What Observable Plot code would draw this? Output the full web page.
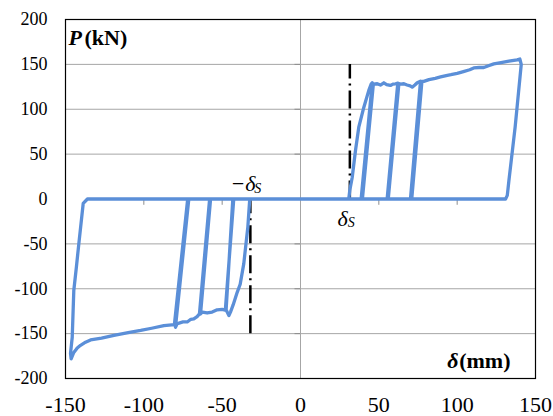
<!DOCTYPE html>
<html>
<head>
<meta charset="utf-8">
<script src="https://cdn.jsdelivr.net/npm/d3@7"></script>
<script src="https://cdn.jsdelivr.net/npm/@observablehq/plot@0.6"></script>
<style>
  html, body { margin: 0; padding: 0; background: #fff; }
  #chart svg { display: block; }
</style>
</head>
<body>
<div id="chart"></div>
<script>
// Hysteresis path: displacement δ (mm) and load P (kN), in drawing order
const delta = [
  0, 30.8, 31.5, 33, 35.1, 37.2, 40.4, 43.6, 45.1, 45.8,
  38.7, 39.5, 46.5, 49, 51, 53.2, 55, 57.4, 59, 60.6, 62.1,
  55.3, 56, 62.8, 64, 66, 68, 70, 71.3, 73, 74.5, 76.6,
  70.2, 71, 77.5, 78.7, 82, 86, 89.4, 93, 96, 100, 104, 108, 110.6, 114, 117, 120, 123.4, 128, 133, 138.3, 140,
  140.9, 137, 133, 132, 130.9,
  -32.4, -33.6, -36.2, -38.5, -40.4, -43, -44.7, -45.7, -47.9,
  -42.6, -43.2, -47.5, -50, -53.2, -56.4, -59.6, -62.7, -63.8,
  -57.4, -58, -64.5, -66, -68.1, -70, -72.3, -75, -77, -78.7, -79.8,
  -71.3, -72, -80.5, -87.2, -95, -102, -110, -119.1, -127, -134, -137.2, -140.4, -142.5, -144.7, -146.4,
  -146.8, -145.7, -144.7, -143, -141.5, -138.7, -136, 0
];
const load = [
  0, 0, 10, 24, 54, 80, 102, 121, 128, 129.5,
  0, 0, 128, 128.4, 127, 129.5, 127.5, 126.5, 128, 128.4, 129,
  0, 0, 128.5, 128, 128.4, 127, 126, 124.6, 127, 129.5, 131.3,
  0, 0, 131, 131, 133, 134.5, 136, 137.5, 138.5, 140, 142, 144, 146, 146.5, 146.5, 148.5, 150.6, 152, 153.5, 155, 156,
  150, 80, 20, 4, 0,
  0, -31, -72, -95, -104, -118, -126, -129.8, -122,
  0, 0, -124, -123, -123.5, -126, -127, -126, -128,
  0, 0, -128, -131, -133.5, -134, -137, -137, -138, -139, -142.8,
  0, 0, -140, -141, -144, -146.5, -149, -152, -155, -157, -159.5, -163, -166, -171, -178,
  -172, -154, -102, -75, -50, -5, 0, 0
];

const xTicks = [-150, -100, -50, 0, 50, 100, 150];
const yTicks = [-200, -150, -100, -50, 0, 50, 100, 150, 200];
const gridY = [-150, -100, -50, 50, 100, 150];
const deltaS = [-32, 31.5];   // δS marker positions (mm)
const markerTop = [0, 150];   // extent of dash-dot markers (kN)
const markerBottom = [-150, 0];

const pts = delta.map((d, i) => ({x: d, y: load[i]}));
const markers = deltaS.map((d, i) => ({x: d, y1: markerBottom[i], y2: markerTop[i]}));

const serif = "'Liberation Serif', serif";
const blue = "#5b8fd8";

const chart = Plot.plot({
  width: 553,
  height: 416,
  marginLeft: 65,
  marginRight: 18,
  marginTop: 19,
  marginBottom: 38,
  style: {fontFamily: serif, background: "#fff", color: "#000"},
  x: {domain: [-150, 150], label: null},
  y: {domain: [-200, 200], label: null},
  marks: [
    Plot.ruleY(gridY, {stroke: "#a6a6a6", strokeWidth: 1}),
    Plot.ruleX([0], {stroke: "#a6a6a6", strokeWidth: 1}),
    Plot.ruleX(xTicks.filter(d => d !== 0 && Math.abs(d) !== 150), {y1: 0, y2: -7, stroke: "#8c8c8c", strokeWidth: 1}),
    Plot.ruleY(yTicks.filter(d => d !== 0 && Math.abs(d) !== 200), {x1: -3.5, x2: 0, stroke: "#8c8c8c", strokeWidth: 1}),
    Plot.ruleX(markers, {x: "x", y1: "y1", y2: "y2", stroke: "#000", strokeWidth: 2.5, strokeDasharray: "18,5,2,5"}),
    Plot.line(pts, {x: "x", y: "y", stroke: blue, strokeWidth: 3.3, strokeLinejoin: "round", strokeLinecap: "round"}),
    Plot.frame({stroke: "#000", strokeWidth: 1.2}),
    Plot.axisY(yTicks, {tickSize: 0, tickPadding: 18, fontSize: 18, fontFamily: serif, tickFormat: d => String(d), fill: "#000", label: null}),
    Plot.axisX(xTicks, {tickSize: 0, tickPadding: 18, fontSize: 22, fontFamily: serif, tickFormat: d => String(d), fill: "#000", label: null}),
    // δS annotations
    Plot.text([deltaS[0]], {x: d => d, y: 0, text: () => "\u2212\u03b4", textAnchor: "end", lineAnchor: "bottom", dx: 5, dy: -8, fontSize: 22, fontStyle: "italic", fontFamily: serif}),
    Plot.text([deltaS[0]], {x: d => d, y: 0, text: () => "S", textAnchor: "start", lineAnchor: "bottom", dx: 4, dy: -6.5, fontSize: 14, fontStyle: "italic", fontFamily: serif}),
    Plot.text([deltaS[1]], {x: d => d, y: 0, text: () => "\u03b4", textAnchor: "end", lineAnchor: "bottom", dx: -2, dy: 26.5, fontSize: 22, fontStyle: "italic", fontFamily: serif}),
    Plot.text([deltaS[1]], {x: d => d, y: 0, text: () => "S", textAnchor: "start", lineAnchor: "bottom", dx: -2, dy: 28, fontSize: 14, fontStyle: "italic", fontFamily: serif}),
    // axis titles inside the frame
    Plot.text(["P"], {frameAnchor: "top-left", text: d => d, textAnchor: "start", lineAnchor: "top", dx: 3, dy: 10, fontSize: 22, fontWeight: "bold", fontStyle: "italic", fontFamily: serif}),
    Plot.text(["(kN)"], {frameAnchor: "top-left", text: d => d, textAnchor: "start", lineAnchor: "top", dx: 19, dy: 10, fontSize: 22, fontWeight: "bold", fontFamily: serif}),
    Plot.text(["\u03b4"], {frameAnchor: "bottom-right", text: d => d, textAnchor: "end", lineAnchor: "bottom", dx: -77, dy: -11, fontSize: 22, fontWeight: "bold", fontStyle: "italic", fontFamily: serif}),
    Plot.text(["(mm)"], {frameAnchor: "bottom-right", text: d => d, textAnchor: "end", lineAnchor: "bottom", dx: -25, dy: -11, fontSize: 22, fontWeight: "bold", fontFamily: serif})
  ]
});
document.getElementById("chart").appendChild(chart);
</script>
</body>
</html>
